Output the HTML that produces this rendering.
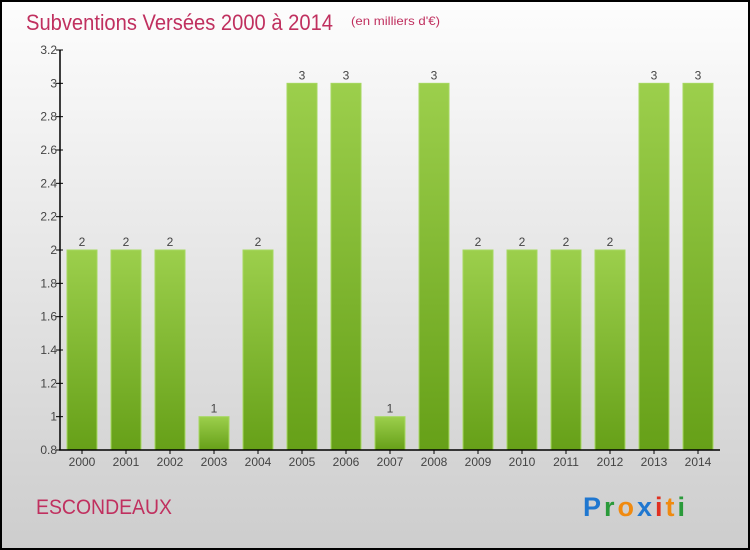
<!DOCTYPE html>
<html><head><meta charset="utf-8"><style>
body{margin:0}
svg{display:block;font-family:"Liberation Sans",sans-serif}
</style></head><body>
<svg id="c" width="750" height="550" viewBox="0 0 750 550">
<defs>
<linearGradient id="bg" x1="0" y1="0" x2="0" y2="1"><stop offset="0" stop-color="#fdfdfd"/><stop offset="1" stop-color="#cdcdcd"/></linearGradient>
<linearGradient id="bar" x1="0" y1="0" x2="0" y2="1"><stop offset="0" stop-color="#9ccf4c"/><stop offset="1" stop-color="#66a018"/></linearGradient>
</defs>
<rect x="1" y="1" width="748" height="548" fill="url(#bg)" stroke="#000" stroke-width="2"/>
<text x="26" y="30" font-size="22" fill="#c0305f" textLength="307" lengthAdjust="spacingAndGlyphs">Subventions Versées 2000 à 2014</text>
<text x="351" y="25" font-size="12" fill="#c0305f" textLength="89" lengthAdjust="spacingAndGlyphs">(en milliers d'€)</text>
<text x="36" y="514" font-size="21" fill="#c0305f" textLength="136" lengthAdjust="spacingAndGlyphs">ESCONDEAUX</text>
<g font-size="27" font-weight="bold">
<text x="583" y="516" textLength="102" lengthAdjust="spacing"><tspan fill="#1f77d0">P</tspan><tspan fill="#2a9a3a">r</tspan><tspan fill="#f08a10">o</tspan><tspan fill="#1f77d0">x</tspan><tspan fill="#e03020">i</tspan><tspan fill="#f08a10">t</tspan><tspan fill="#2a9a3a">i</tspan></text>
</g>
<g id="plot"></g>
</svg>
<script>
const categories=["2000","2001","2002","2003","2004","2005","2006","2007","2008","2009","2010","2011","2012","2013","2014"];
const values=[2,2,2,1,2,3,3,1,3,2,2,2,2,3,3];
const tickLabels=["0.8","1","1.2","1.4","1.6","1.8","2","2.2","2.4","2.6","2.8","3","3.2"];
const tickValues=[0.8,1,1.2,1.4,1.6,1.8,2,2.2,2.4,2.6,2.8,3,3.2];
const NS="http://www.w3.org/2000/svg";
const plotG=document.getElementById('plot');
const yMin=0.8,yMax=3.2,yTop=50,yBot=450,xLeft=60;
const yS=v=>yBot-(v-yMin)/(yMax-yMin)*(yBot-yTop);
const xS=i=>82+i*44;
function el(t,a){const e=document.createElementNS(NS,t);for(const k in a)e.setAttribute(k,a[k]);plotG.appendChild(e);return e;}
categories.forEach((c,i)=>{
 const r=el('rect',{x:xS(i)-15,y:yS(values[i]),width:30,height:yBot-yS(values[i]),fill:'url(#bar)',stroke:'#a6d860','stroke-width':1});
 
 
 const t=el('text',{x:xS(i),y:yS(values[i])-4,'text-anchor':'middle','font-size':12,fill:'#444'});t.textContent=values[i];
 
 
 const l=el('text',{x:xS(i),y:yBot+16,'text-anchor':'middle','font-size':12,fill:'#444'});l.textContent=c;
 
 
 const tk=el('line',{x1:xS(i),x2:xS(i),y1:yBot,y2:yBot+4,stroke:'#000'});
 
 
});
tickValues.forEach((v,i)=>{
 const tk=el('line',{x1:xLeft-4,x2:xLeft+3,y1:yS(v),y2:yS(v),stroke:'#000'});
 
 
 const t=el('text',{x:xLeft-3,y:yS(v)+4,'text-anchor':'end','font-size':12,fill:'#444'});t.textContent=tickLabels[i];
 
 
});
const ya=el('line',{x1:xLeft,x2:xLeft,y1:yTop,y2:yBot,stroke:'#000','stroke-width':1.5});


const xa=el('line',{x1:xLeft-1,x2:720,y1:yBot,y2:yBot,stroke:'#000','stroke-width':1.5});


</script>
</body></html>
